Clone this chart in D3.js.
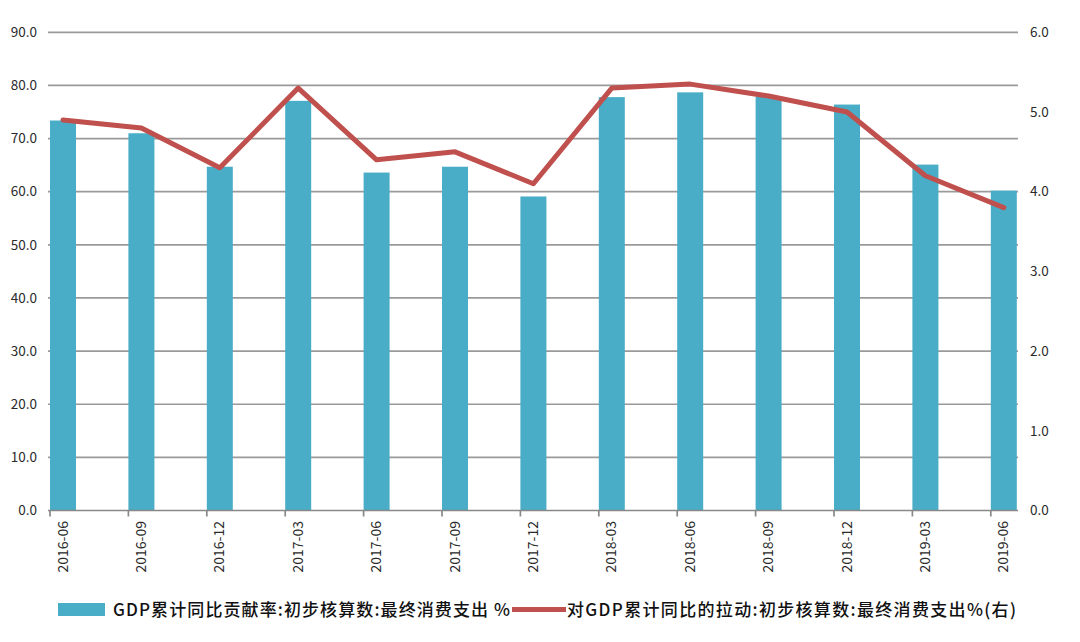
<!DOCTYPE html>
<html><head><meta charset="utf-8">
<script src="https://cdn.jsdelivr.net/npm/d3@7"></script>
<style>
body{margin:0;background:#fff;}
text{font-family:"Noto Sans CJK SC","Noto Sans",sans-serif;}
</style></head>
<body><svg id="c" width="1080" height="642"></svg>
<script>
const categories = ["2016-06","2016-09","2016-12","2017-03","2017-06","2017-09","2017-12","2018-03","2018-06","2018-09","2018-12","2019-03","2019-06"];
const contributionRate = [73.4,71.0,64.7,77.1,63.6,64.7,59.1,77.8,78.7,77.9,76.4,65.1,60.2];
const pullEffect = [4.9,4.8,4.3,5.3,4.4,4.5,4.1,5.3,5.35,5.2,5.0,4.2,3.8];
const leftTicks = [0,10,20,30,40,50,60,70,80,90];
const rightTicks = [0,1,2,3,4,5,6];
const legendLabels = ["GDP累计同比贡献率:初步核算数:最终消费支出 %","对GDP累计同比的拉动:初步核算数:最终消费支出%(右)"];

const svg = d3.select("#c");
const pLeft = 48, pRight = 1018, pTop = 32.3, pBottom = 510.5;
const barW = 26;
const x = d3.scalePoint().domain(categories).range([50, 990.8]);
const yL = d3.scaleLinear().domain([0,90]).range([pBottom, pTop]);
const yR = d3.scaleLinear().domain([0,6]).range([pBottom, pTop]);

// gridlines
svg.append("g").selectAll("line").data(leftTicks.filter(d=>d>0)).join("line")
  .attr("x1", pLeft).attr("x2", pRight)
  .attr("y1", d=>yL(d)).attr("y2", d=>yL(d))
  .attr("stroke", "#9a9a9a").attr("stroke-width", 1.7);

// left labels
svg.append("g").selectAll("text").data(leftTicks).join("text")
  .attr("x", 37).attr("y", d=>yL(d)).attr("dy","0.35em")
  .attr("text-anchor","end").attr("font-size",13.5).attr("fill","#2a2a2a")
  .text(d=>d.toFixed(1));
// right labels
svg.append("g").selectAll("text").data(rightTicks).join("text")
  .attr("x", 1030).attr("y", d=>yR(d)).attr("dy","0.35em")
  .attr("text-anchor","start").attr("font-size",13.5).attr("fill","#2a2a2a")
  .text(d=>d.toFixed(1));

// bars
svg.append("g").selectAll("rect").data(categories).join("rect")
  .attr("x", d=>x(d)).attr("width", barW)
  .attr("y", (d,i)=>yL(contributionRate[i]))
  .attr("height", (d,i)=>yL(0)-yL(contributionRate[i]))
  .attr("fill", "#4aadc7");

// x axis
const ax = svg.append("g");
ax.append("line").attr("x1", pLeft).attr("x2", pRight).attr("y1", pBottom).attr("y2", pBottom)
  .attr("stroke","#888").attr("stroke-width",1.7);
ax.selectAll("line.t").data(categories).join("line").attr("class","t")
  .attr("x1", d=>x(d)).attr("x2", d=>x(d)).attr("y1", pBottom).attr("y2", pBottom+6)
  .attr("stroke","#888").attr("stroke-width",1.7);
ax.selectAll("text").data(categories).join("text")
  .attr("transform", d=>`translate(${x(d)+barW/2+4.5},521) rotate(-90)`)
  .attr("text-anchor","end").attr("font-size",14).attr("fill","#2a2a2a")
  .text(d=>d);

// line
const line = d3.line().x((d,i)=>x(categories[i])+barW/2).y(d=>yR(d));
svg.append("path").datum(pullEffect).attr("d", line)
  .attr("fill","none").attr("stroke","#c0504d").attr("stroke-width",5)
  .attr("stroke-linejoin","round").attr("stroke-linecap","round");

// legend
const lg = svg.append("g");
lg.append("rect").attr("x",58).attr("y",603).attr("width",47).attr("height",13).attr("fill","#4aadc7");
lg.append("text").attr("x",113).attr("y",616).attr("font-size",17).attr("font-weight",500).attr("fill","#111")
  .attr("textLength",397).attr("lengthAdjust","spacing").text(legendLabels[0]);
lg.append("line").attr("x1",512).attr("x2",566).attr("y1",609.5).attr("y2",609.5)
  .attr("stroke","#c0504d").attr("stroke-width",5);
lg.append("text").attr("x",567).attr("y",616).attr("font-size",17).attr("font-weight",500).attr("fill","#111")
  .attr("textLength",449).attr("lengthAdjust","spacing").text(legendLabels[1]);
</script></body></html>
